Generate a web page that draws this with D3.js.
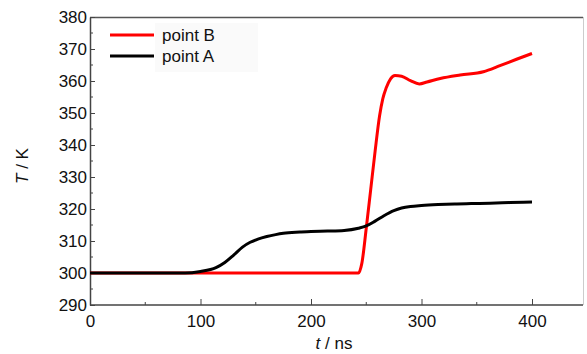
<!DOCTYPE html>
<html>
<head>
<meta charset="utf-8">
<script src="https://cdn.jsdelivr.net/npm/d3@7"></script>
<style>
  body { margin: 0; background: #fff; }
  svg text { font-family: "Liberation Sans", Arial, sans-serif; fill: #111; }
</style>
</head>
<body>
<div id="chart"></div>
<script>
// time (ns) and temperature (K)
var timeA = [0, 60, 86, 100, 114, 122, 130, 138, 145, 152, 160, 168, 175, 190, 200, 215, 230, 243, 250, 258, 266, 275, 282, 290, 300, 315, 330, 345, 362, 380, 400];
var tempA = [300, 300, 300, 300.5, 301.7, 303.3, 305.6, 308.1, 309.6, 310.6, 311.4, 312.0, 312.4, 312.8, 313.0, 313.1, 313.3, 314.0, 314.7, 316.2, 317.9, 319.5, 320.3, 320.8, 321.1, 321.4, 321.6, 321.7, 321.8, 322.0, 322.2];

var timeB = [0, 100, 200, 243, 246, 250, 254, 258, 262, 265, 268, 272, 276, 282, 290, 298, 305, 317, 335, 356, 371, 386, 400];
var tempB = [300, 300, 300, 300, 303, 314, 326, 338, 349, 354.5, 357.8, 360.7, 361.7, 361.5, 360.1, 359.1, 359.7, 360.8, 361.9, 362.9, 364.8, 366.8, 368.6];

var seriesNames = ["point B", "point A"];
var seriesColors = ["#ff0000", "#000000"];

var xTicks = [0, 100, 200, 300, 400];
var yTicks = [290, 300, 310, 320, 330, 340, 350, 360, 370, 380];

var width = 587, height = 354;
var plotLeft = 90, plotTop = 17, plotBottom = 305, plotRight = 583;

var svg = d3.select("#chart").append("svg")
    .attr("width", width)
    .attr("height", height);

var x = d3.scaleLinear().domain([0, 400]).range([plotLeft, 532]);
var y = d3.scaleLinear().domain([290, 380]).range([plotBottom, plotTop]);

// plot frame
svg.append("line").attr("x1", plotLeft).attr("x2", plotRight).attr("y1", plotTop + 0.5).attr("y2", plotTop + 0.5)
    .attr("stroke", "#555").attr("stroke-width", 1.5);
svg.append("line").attr("x1", plotRight + 0.5).attr("x2", plotRight + 0.5).attr("y1", plotTop).attr("y2", plotBottom)
    .attr("stroke", "#ccc").attr("stroke-width", 1);

// minor ticks
var xMinor = d3.range(50, 450, 100);
var yMinor = d3.range(295, 380, 10);
svg.selectAll(".xminor").data(xMinor).enter().append("line")
    .attr("x1", function(d){ return x(d); }).attr("x2", function(d){ return x(d); })
    .attr("y1", plotBottom).attr("y2", plotBottom - 3)
    .attr("stroke", "#444");
svg.selectAll(".yminor").data(yMinor).enter().append("line")
    .attr("x1", plotLeft).attr("x2", plotLeft + 3)
    .attr("y1", function(d){ return y(d); }).attr("y2", function(d){ return y(d); })
    .attr("stroke", "#444");

// axes, ticks pointing inward
var xAxis = svg.append("g")
    .attr("transform", "translate(0," + plotBottom + ")")
    .call(d3.axisBottom(x).tickValues(xTicks).tickSize(-6).tickPadding(10).tickSizeOuter(0));
var yAxis = svg.append("g")
    .attr("transform", "translate(" + plotLeft + ",0)")
    .call(d3.axisLeft(y).tickValues(yTicks).tickSize(-5).tickPadding(4).tickSizeOuter(0));

[xAxis, yAxis].forEach(function(ax){
  ax.select(".domain").attr("stroke", "#444").attr("stroke-width", 1.5);
  ax.selectAll(".tick line").attr("stroke", "#444");
  ax.selectAll(".tick text")
    .style("font-family", "'Liberation Sans', Arial, sans-serif")
    .style("font-size", "17px")
    .attr("fill", "#111");
});
yAxis.selectAll(".tick text").attr("dx", "1");
xAxis.select(".domain").attr("d", "M" + plotLeft + ",0H" + plotRight);

// axis titles
var xt = svg.append("text").attr("x", 334).attr("y", 349).attr("text-anchor", "middle")
    .style("font-size", "17px");
xt.append("tspan").attr("font-style", "italic").text("t");
xt.append("tspan").text(" / ns");

var yt = svg.append("text").attr("transform", "translate(28,166) rotate(-90)")
    .attr("text-anchor", "middle").style("font-size", "17px");
yt.append("tspan").attr("font-style", "italic").text("T");
yt.append("tspan").text(" / K");

// lines
var line = d3.line()
    .x(function(d){ return x(d[0]); })
    .y(function(d){ return y(d[1]); })
    .curve(d3.curveMonotoneX);

var dataB = timeB.map(function(t, i){ return [t, tempB[i]]; });
var dataA = timeA.map(function(t, i){ return [t, tempA[i]]; });

svg.append("path").datum(dataB).attr("d", line)
    .attr("fill", "none").attr("stroke", seriesColors[0]).attr("stroke-width", 3);
svg.append("path").datum(dataA).attr("d", line)
    .attr("fill", "none").attr("stroke", seriesColors[1]).attr("stroke-width", 3);

// legend
svg.append("rect").attr("x", 155).attr("y", 23).attr("width", 103).attr("height", 49)
    .attr("fill", "#fafafa");
var legendY = [35, 56];
seriesNames.forEach(function(name, i){
  svg.append("line").attr("x1", 110).attr("x2", 154)
    .attr("y1", legendY[i]).attr("y2", legendY[i])
    .attr("stroke", seriesColors[i]).attr("stroke-width", 3);
  svg.append("text").attr("x", 162).attr("y", legendY[i] + 6)
    .style("font-size", "17px").text(name);
});
</script>
</body>
</html>
